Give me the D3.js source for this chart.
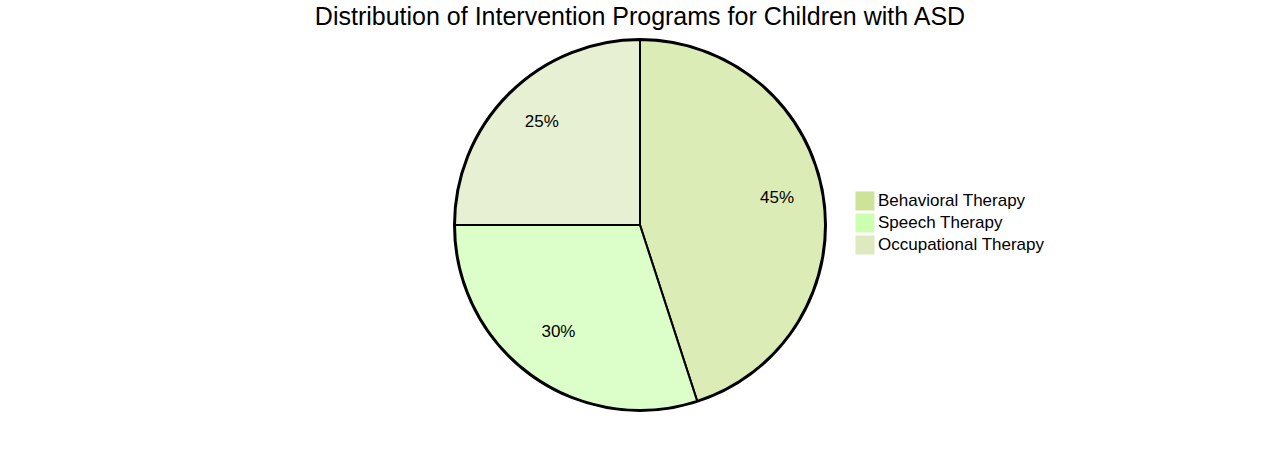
<!DOCTYPE html>
<html><head><meta charset="utf-8">
<script src="https://cdn.jsdelivr.net/npm/d3@7"></script>
<style>
body{margin:0;background:#fff;}
text{font-family:"Liberation Sans",Arial,sans-serif;}
</style></head>
<body>
<svg id="chart" width="1280" height="450"></svg>
<script>
const title = "Distribution of Intervention Programs for Children with ASD";
const categories = ["Behavioral Therapy", "Speech Therapy", "Occupational Therapy"];
const values = [45, 30, 25];
const colors = ["#cde498", "#cdffb2", "#dee9c0"];

const W = 1280, H = 450;
const svg = d3.select("#chart");
const radius = Math.min(W, H) / 2 - 40;
const cx = W / 2, cy = H / 2;

svg.append("text")
  .attr("x", cx).attr("y", 25)
  .attr("text-anchor", "middle")
  .attr("font-size", 25)
  .attr("fill", "#000")
  .text(title);

const g = svg.append("g").attr("transform", `translate(${cx},${cy})`);
const color = d3.scaleOrdinal().domain(categories).range(colors);
const data = categories.map((c, i) => ({label: c, value: values[i]}));
const total = d3.sum(values);
const pie = d3.pie().value(d => d.value).sort(null);
const arc = d3.arc().innerRadius(0).outerRadius(radius);
const labelArc = d3.arc().innerRadius(radius * 0.75).outerRadius(radius * 0.75);

g.append("circle")
  .attr("r", radius + 1)
  .attr("fill", "none")
  .attr("stroke", "#000")
  .attr("stroke-width", 2);

const arcs = pie(data);
g.selectAll("path.slice").data(arcs).enter().append("path")
  .attr("class", "slice")
  .attr("d", arc)
  .attr("fill", d => color(d.data.label))
  .attr("fill-opacity", 0.7)
  .attr("stroke", "#000")
  .attr("stroke-width", 2);

g.selectAll("text.lbl").data(arcs).enter().append("text")
  .attr("class", "lbl")
  .attr("transform", d => `translate(${labelArc.centroid(d)})`)
  .attr("text-anchor", "middle")
  .attr("font-size", 17)
  .attr("fill", "#000")
  .text(d => Math.round(d.data.value / total * 100) + "%");

const legend = svg.append("g").attr("transform", `translate(${cx + radius + 31},${cy})`);
const items = legend.selectAll("g").data(categories).enter().append("g")
  .attr("transform", (d, i) => {
    const h = 22, off = h * categories.length / 2;
    return `translate(0,${i * h - off})`;
  });
items.append("rect").attr("width", 18).attr("height", 18)
  .attr("fill", d => color(d)).attr("stroke", d => color(d));
items.append("text").attr("x", 22).attr("y", 14)
  .attr("font-size", 17).attr("fill", "#000")
  .text(d => d);
</script>
</body></html>
